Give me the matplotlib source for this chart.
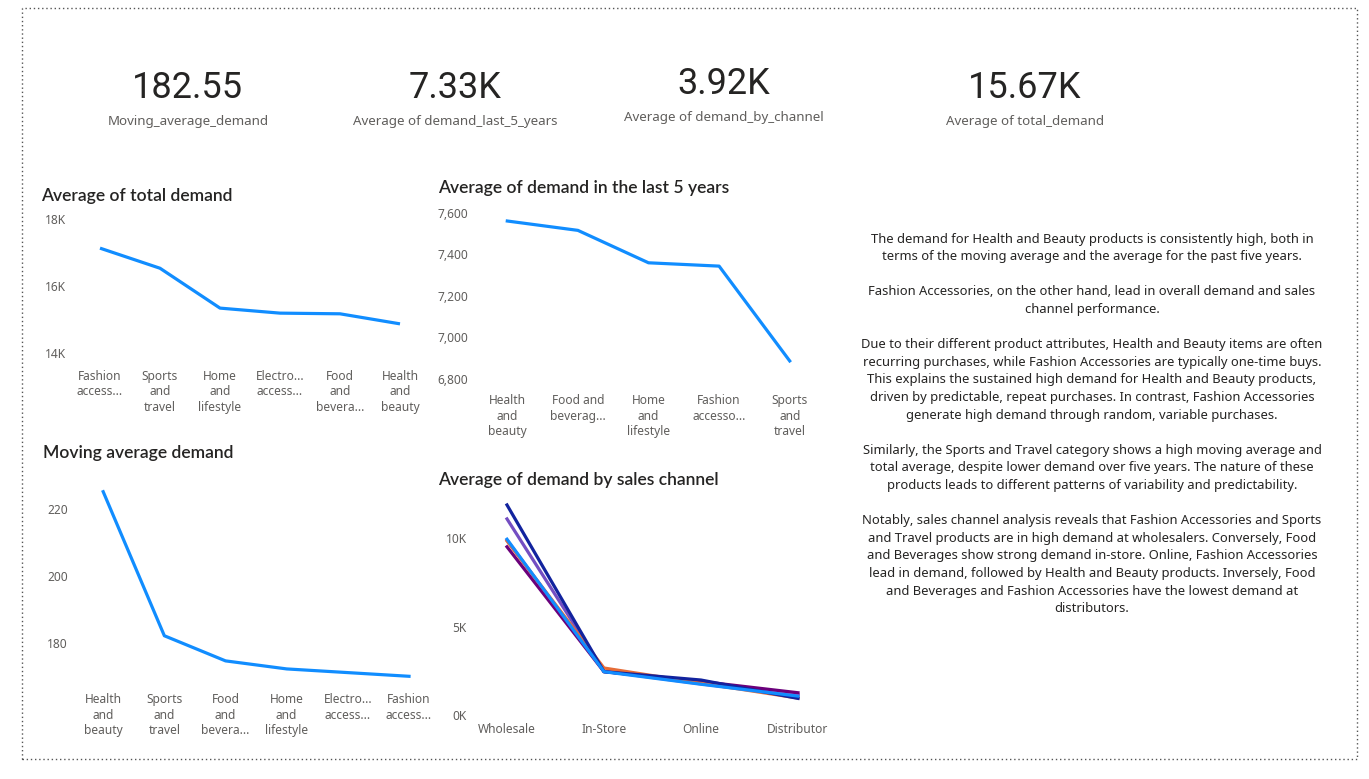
import matplotlib
matplotlib.use("Agg")
import matplotlib.pyplot as plt
from matplotlib.patches import Rectangle

W, H = 1369, 779

# KPI cards
kpi_values = ["182.55", "7.33K", "3.92K", "15.67K"]
kpi_labels = ["Moving_average_demand", "Average of demand_last_5_years",
              "Average of demand_by_channel", "Average of total_demand"]

# Average of total demand
total_cats = ["Fashion\naccess...", "Sports\nand\ntravel", "Home\nand\nlifestyle",
              "Electro...\naccess...", "Food\nand\nbevera...", "Health\nand\nbeauty"]
total_vals = [17130, 16530, 15340, 15190, 15170, 14870]

# Average of demand in the last 5 years
last5_cats = ["Health\nand\nbeauty", "Food and\nbeverag...", "Home\nand\nlifestyle",
              "Fashion\naccesso...", "Sports\nand\ntravel"]
last5_vals = [7560, 7515, 7359, 7343, 6887]

# Moving average demand
mov_cats = ["Health\nand\nbeauty", "Sports\nand\ntravel", "Food\nand\nbevera...",
            "Home\nand\nlifestyle", "Electro...\naccess...", "Fashion\naccess..."]
mov_vals = [225.3, 182.3, 174.8, 172.4, 171.3, 170.2]

# Average of demand by sales channel (one line per product category)
channels = ["Wholesale", "In-Store", "Online", "Distributor"]
ch_electronic = [9950, 2450, 1740, 1070]
ch_fashion = [11890, 2450, 1980, 940]
ch_food = [9850, 2660, 1800, 960]
ch_health = [9520, 2450, 1900, 1260]
ch_home = [9900, 2480, 1760, 1100]
ch_sports = [11100, 2470, 1850, 1150]

summary = [
    ["The demand for Health and Beauty products is consistently high, both in",
     "terms of the moving average and the average for the past five years."],
    ["Fashion Accessories, on the other hand, lead in overall demand and sales",
     "channel performance."],
    ["Due to their different product attributes, Health and Beauty items are often",
     "recurring purchases, while Fashion Accessories are typically one-time buys.",
     "This explains the sustained high demand for Health and Beauty products,",
     "driven by predictable, repeat purchases. In contrast, Fashion Accessories",
     "generate high demand through random, variable purchases."],
    ["Similarly, the Sports and Travel category shows a high moving average and",
     "total average, despite lower demand over five years. The nature of these",
     "products leads to different patterns of variability and predictability."],
    ["Notably, sales channel analysis reveals that Fashion Accessories and Sports",
     "and Travel products are in high demand at wholesalers. Conversely, Food",
     "and Beverages show strong demand in-store. Online, Fashion Accessories",
     "lead in demand, followed by Health and Beauty products. Inversely, Food",
     "and Beverages and Fashion Accessories have the lowest demand at",
     "distributors."],
]

BLUE = "#118DFF"
TICK = "#605E5C"
TITLE = "#252423"
BODY_FONT = ["Noto Sans", "DejaVu Sans"]
NUM_FONT = ["Roboto", "DejaVu Sans"]
TITLE_FONT = ["Lato", "Noto Sans", "DejaVu Sans"]

fig = plt.figure(figsize=(W / 100, H / 100), dpi=100)
fig.patch.set_facecolor("white")


def fx(px):
    return px / W


def fy(py):
    return 1 - py / H


def px_axes(left, top, right, bottom):
    return fig.add_axes([fx(left), fy(bottom), (right - left) / W, (bottom - top) / H])


def style_axes(ax, cats, pad_x, pad_y):
    ax.set_xticks(range(len(cats)))
    ax.set_xticklabels(cats, fontsize=8.6, color=TICK, family=BODY_FONT, linespacing=1.25,
                       va="top")
    for lbl in ax.get_yticklabels():
        lbl.set_fontsize(8.6)
        lbl.set_color(TICK)
        lbl.set_family(BODY_FONT)
    ax.tick_params(axis="x", length=0, pad=pad_x)
    ax.tick_params(axis="y", length=0, pad=pad_y)
    for s in ax.spines.values():
        s.set_visible(False)
    ax.set_facecolor("none")


def chart_title(x, y, text):
    fig.text(fx(x), fy(y), text, ha="left", va="center", fontsize=12.6, color=TITLE,
             family=TITLE_FONT, weight="semibold")


# dotted page border
fig.add_artist(Rectangle((fx(22), fy(759)), (1357 - 22) / W, (759 - 8) / H,
                         transform=fig.transFigure, fill=False, edgecolor="#555555",
                         linestyle=(0, (1, 2)), linewidth=1.0))

# KPI cards
kpi_x = [188, 455, 724, 1025]
kpi_y = [88, 88, 84, 88]
for x, y, v, lab in zip(kpi_x, kpi_y, kpi_values, kpi_labels):
    fig.text(fx(x), fy(y), v, ha="center", va="center", fontsize=26, color="#252423",
             family=NUM_FONT)
    fig.text(fx(x), fy(y + 34), lab, ha="center", va="center", fontsize=9.6,
             color="#605E5C", family=BODY_FONT)

# Average of total demand
ax1 = px_axes(70, 219, 430, 353)
ax1.plot(range(len(total_vals)), total_vals, color=BLUE, linewidth=2.3,
         solid_joinstyle="round", solid_capstyle="butt")
ax1.set_xlim(-0.5, len(total_vals) - 0.5)
ax1.set_ylim(14000, 18000)
ax1.set_yticks([14000, 16000, 18000])
ax1.set_yticklabels(["14K", "16K", "18K"])
style_axes(ax1, total_cats, 12, 3)
chart_title(41, 196, "Average of total demand")

# Average of demand in the last 5 years
ax2 = px_axes(472, 212.7, 825, 379)
ax2.plot(range(len(last5_vals)), last5_vals, color=BLUE, linewidth=2.3,
         solid_joinstyle="round")
ax2.set_xlim(-0.5, len(last5_vals) - 0.5)
ax2.set_ylim(6800, 7600)
ax2.set_yticks([6800, 7000, 7200, 7400, 7600])
ax2.set_yticklabels(["6,800", "7,000", "7,200", "7,400", "7,600"])
style_axes(ax2, last5_cats, 11, 3)
chart_title(438, 188, "Average of demand in the last 5 years")

# Moving average demand
ax3 = px_axes(72.6, 485, 439.6, 685)
ax3.plot(range(len(mov_vals)), mov_vals, color=BLUE, linewidth=2.3,
         solid_joinstyle="round")
ax3.set_xlim(-0.5, len(mov_vals) - 0.5)
ax3.set_ylim(167.6, 227.3)
ax3.set_yticks([180, 200, 220])
ax3.set_yticklabels(["180", "200", "220"])
style_axes(ax3, mov_cats, 6, 3.5)
chart_title(43, 453, "Moving average demand")

# Average of demand by sales channel
ax4 = px_axes(471, 500, 846.5, 715)
series = [
    (ch_sports, "#744EC2"),
    (ch_home, "#E044A7"),
    (ch_health, "#6B007B"),
    (ch_food, "#E66C37"),
    (ch_fashion, "#12239E"),
    (ch_electronic, BLUE),
]
for vals, col in series:
    ax4.plot(range(len(channels)), vals, color=col, linewidth=2.3, solid_joinstyle="round")
ax4.set_xlim(-0.371, len(channels) - 0.5)
ax4.set_ylim(0, 12170)
ax4.set_yticks([0, 5000, 10000])
ax4.set_yticklabels(["0K", "5K", "10K"])
style_axes(ax4, channels, 5.5, 3)
chart_title(438, 480, "Average of demand by sales channel")

# narrative text
y = 239
step = 17.6
for para in summary:
    for line in para:
        fig.text(fx(1092), fy(y), line, ha="center", va="center", fontsize=9.35,
                 color="#252423", family=BODY_FONT)
        y += step
    y += step

fig.savefig("out.png", dpi=100, facecolor="white")
